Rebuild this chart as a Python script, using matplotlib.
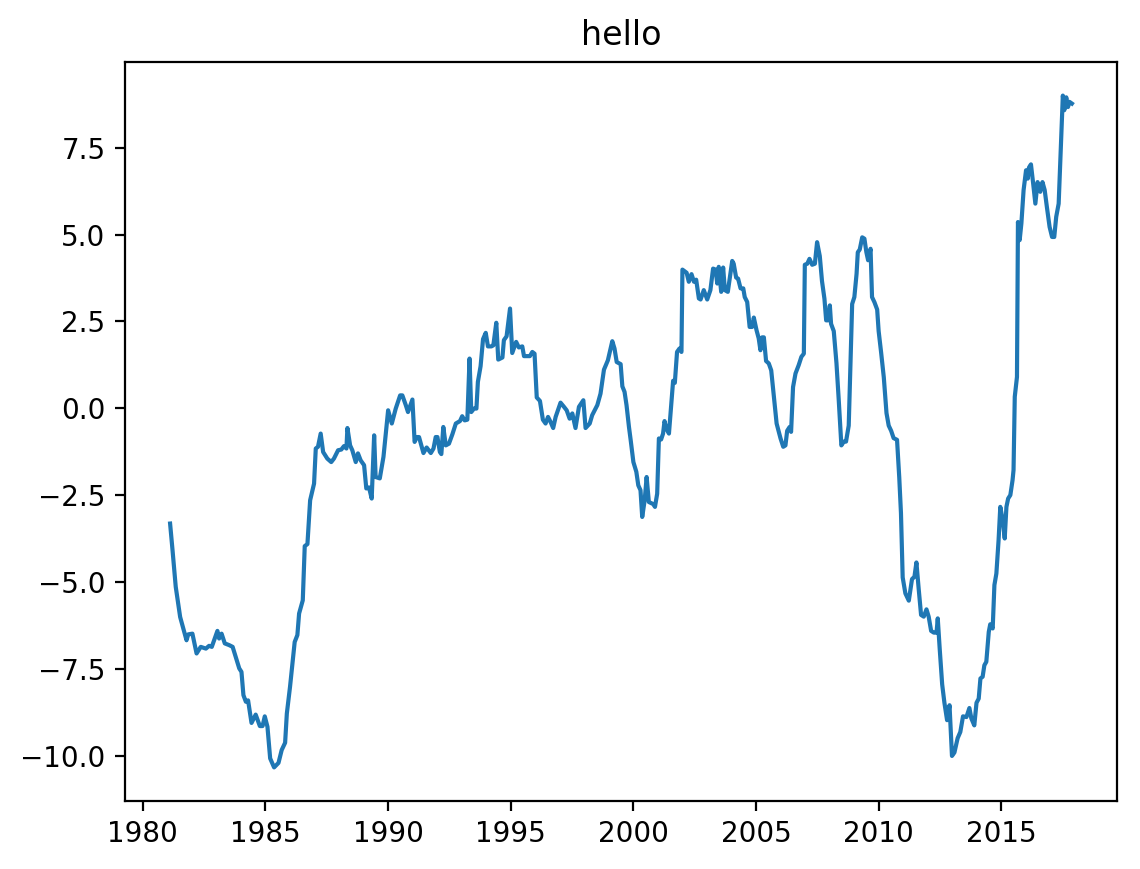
import matplotlib

matplotlib.use("Agg")

import matplotlib.pyplot as plt
import numpy as np

# decimal year, value
years = [
    1981.11, 1981.21, 1981.34, 1981.52, 1981.78, 1981.85, 1982.02, 1982.19, 1982.36, 1982.57,
    1982.70, 1982.81, 1983.04, 1983.11, 1983.21, 1983.34, 1983.52, 1983.66, 1983.93, 1984.02,
    1984.10, 1984.20, 1984.29, 1984.43, 1984.60, 1984.77, 1984.88, 1984.97, 1985.08, 1985.19,
    1985.35, 1985.53, 1985.66, 1985.80, 1985.87, 1986.00, 1986.10, 1986.19, 1986.30, 1986.37,
    1986.52, 1986.60, 1986.71, 1986.82, 1986.98, 1987.05, 1987.14, 1987.25, 1987.35, 1987.52,
    1987.68, 1987.79, 1987.96, 1988.09, 1988.20, 1988.30, 1988.34, 1988.45, 1988.54, 1988.68,
    1988.77, 1988.88, 1989.02, 1989.11, 1989.22, 1989.33, 1989.43, 1989.49, 1989.66, 1989.81,
    1990.00, 1990.15, 1990.31, 1990.49, 1990.58, 1990.72, 1990.81, 1990.99, 1991.08, 1991.17,
    1991.26, 1991.44, 1991.57, 1991.74, 1991.85, 1991.94, 1992.01, 1992.11, 1992.17, 1992.25,
    1992.35, 1992.48, 1992.62, 1992.76, 1992.93, 1993.02, 1993.12, 1993.23, 1993.32, 1993.39,
    1993.50, 1993.60, 1993.66, 1993.77, 1993.87, 1993.98, 1994.07, 1994.21, 1994.29, 1994.41,
    1994.49, 1994.66, 1994.72, 1994.83, 1994.97, 1995.06, 1995.22, 1995.33, 1995.47, 1995.54,
    1995.68, 1995.78, 1995.88, 1995.97, 1996.06, 1996.19, 1996.31, 1996.42, 1996.52, 1996.62,
    1996.73, 1996.83, 1997.03, 1997.17, 1997.28, 1997.40, 1997.51, 1997.64, 1997.78, 1997.96,
    1998.05, 1998.22, 1998.32, 1998.53, 1998.66, 1998.80, 1998.96, 1999.14, 1999.23, 1999.32,
    1999.48, 1999.55, 1999.64, 1999.72, 1999.82, 1999.89, 2000.00, 2000.12, 2000.20, 2000.29,
    2000.36, 2000.46, 2000.54, 2000.63, 2000.81, 2000.88, 2000.97, 2001.04, 2001.13, 2001.21,
    2001.27, 2001.35, 2001.45, 2001.62, 2001.69, 2001.78, 2001.88, 2001.96, 2002.00, 2002.17,
    2002.26, 2002.37, 2002.47, 2002.56, 2002.67, 2002.74, 2002.87, 2003.01, 2003.14, 2003.25,
    2003.35, 2003.42, 2003.48, 2003.58, 2003.66, 2003.73, 2003.85, 2004.03, 2004.09, 2004.19,
    2004.27, 2004.37, 2004.48, 2004.54, 2004.64, 2004.74, 2004.84, 2004.91, 2005.02, 2005.11,
    2005.18, 2005.25, 2005.32, 2005.41, 2005.52, 2005.62, 2005.73, 2005.84, 2006.00, 2006.11,
    2006.20, 2006.27, 2006.37, 2006.43, 2006.51, 2006.61, 2006.74, 2006.85, 2006.95, 2006.99,
    2007.09, 2007.18, 2007.29, 2007.40, 2007.49, 2007.60, 2007.69, 2007.79, 2007.86, 2007.94,
    2008.01, 2008.06, 2008.17, 2008.28, 2008.37, 2008.48, 2008.58, 2008.67, 2008.78, 2008.85,
    2008.92, 2009.01, 2009.10, 2009.15, 2009.23, 2009.33, 2009.42, 2009.50, 2009.57, 2009.67,
    2009.73, 2009.83, 2009.94, 2010.00, 2010.10, 2010.21, 2010.32, 2010.41, 2010.51, 2010.61,
    2010.75, 2010.84, 2010.91, 2010.98, 2011.09, 2011.23, 2011.36, 2011.46, 2011.54, 2011.63,
    2011.73, 2011.84, 2011.95, 2012.04, 2012.14, 2012.25, 2012.36, 2012.41, 2012.49, 2012.59,
    2012.68, 2012.79, 2012.89, 2012.99, 2013.09, 2013.22, 2013.33, 2013.44, 2013.58, 2013.70,
    2013.78, 2013.90, 2013.99, 2014.08, 2014.15, 2014.24, 2014.31, 2014.39, 2014.49, 2014.55,
    2014.65, 2014.72, 2014.80, 2014.89, 2014.96, 2015.06, 2015.14, 2015.21, 2015.28, 2015.37,
    2015.46, 2015.50, 2015.55, 2015.64, 2015.68, 2015.75, 2015.82, 2015.91, 2016.01, 2016.08,
    2016.13, 2016.21, 2016.30, 2016.39, 2016.48, 2016.59, 2016.68, 2016.77, 2016.86, 2016.97,
    2017.07, 2017.16, 2017.24, 2017.34, 2017.43, 2017.51, 2017.57, 2017.65, 2017.72, 2017.78,
    2017.88,
]
values = [
    -3.32, -4.09, -5.14, -6.01, -6.68, -6.51, -6.49, -7.06, -6.87, -6.92,
    -6.84, -6.87, -6.41, -6.63, -6.49, -6.77, -6.82, -6.87, -7.49, -7.59,
    -8.26, -8.45, -8.41, -9.06, -8.82, -9.15, -9.15, -8.87, -9.17, -10.08,
    -10.34, -10.21, -9.84, -9.63, -8.79, -8.02, -7.35, -6.73, -6.53, -5.91,
    -5.53, -3.97, -3.91, -2.65, -2.17, -1.16, -1.11, -0.73, -1.26, -1.45,
    -1.55, -1.45, -1.21, -1.19, -1.09, -1.16, -0.57, -1.07, -1.21, -1.55,
    -1.30, -1.50, -1.64, -2.31, -2.28, -2.60, -0.78, -1.98, -2.02, -1.40,
    -0.06, -0.44, -0.01, 0.37, 0.37, 0.09, -0.11, 0.25, -0.97, -0.83,
    -0.83, -1.29, -1.13, -1.29, -1.16, -0.83, -0.83, -1.26, -1.32, -0.54,
    -1.07, -1.02, -0.75, -0.44, -0.37, -0.23, -0.35, -0.33, 1.43, -0.11,
    -0.01, -0.01, 0.76, 1.21, 1.99, 2.17, 1.78, 1.78, 1.81, 2.46,
    1.40, 1.46, 1.96, 2.07, 2.87, 1.59, 1.91, 1.75, 1.78, 1.50,
    1.50, 1.50, 1.62, 1.57, 0.31, 0.21, -0.33, -0.44, -0.25, -0.39,
    -0.57, -0.25, 0.16, 0.04, -0.06, -0.30, -0.15, -0.57, 0.04, 0.23,
    -0.57, -0.44, -0.20, 0.09, 0.42, 1.11, 1.38, 1.93, 1.72, 1.33,
    1.27, 0.63, 0.47, 0.09, -0.54, -0.92, -1.55, -1.83, -2.22, -2.36,
    -3.13, -2.65, -1.98, -2.70, -2.76, -2.84, -2.46, -0.87, -0.90, -0.73,
    -0.37, -0.59, -0.73, 0.79, 0.73, 1.62, 1.72, 1.62, 3.99, 3.90,
    3.64, 3.86, 3.64, 3.70, 3.16, 3.13, 3.40, 3.13, 3.40, 4.02,
    3.99, 3.59, 4.07, 3.35, 4.05, 3.40, 3.35, 4.24, 4.16, 3.76,
    3.73, 3.45, 3.45, 3.20, 3.06, 2.34, 2.34, 2.61, 2.25, 2.01,
    1.67, 2.04, 2.04, 1.36, 1.29, 1.09, 0.33, -0.44, -0.87, -1.11,
    -1.07, -0.65, -0.54, -0.68, 0.61, 1.00, 1.24, 1.48, 1.57, 4.13,
    4.16, 4.30, 4.13, 4.16, 4.78, 4.38, 3.66, 3.15, 2.53, 2.53,
    2.96, 2.43, 2.22, 1.30, 0.27, -1.07, -0.96, -0.96, -0.50, 1.30,
    3.00, 3.20, 3.87, 4.49, 4.57, 4.92, 4.88, 4.49, 4.26, 4.59,
    3.20, 3.05, 2.84, 2.22, 1.61, 0.89, -0.14, -0.50, -0.65, -0.86,
    -0.91, -1.99, -3.02, -4.87, -5.33, -5.54, -4.92, -4.85, -4.44, -5.18,
    -5.95, -6.00, -5.79, -6.00, -6.41, -6.46, -6.46, -6.05, -6.93, -7.95,
    -8.47, -8.98, -8.55, -10.01, -9.91, -9.50, -9.32, -8.87, -8.89, -8.63,
    -8.93, -9.13, -8.48, -8.36, -7.78, -7.73, -7.40, -7.30, -6.44, -6.22,
    -6.34, -5.09, -4.76, -3.80, -2.84, -3.22, -3.75, -2.84, -2.60, -2.50,
    -2.07, -1.78, 0.33, 0.90, 5.36, 4.84, 5.32, 6.28, 6.85, 6.61,
    6.93, 7.02, 6.47, 5.89, 6.51, 6.23, 6.51, 6.28, 5.79, 5.22,
    4.93, 4.93, 5.51, 5.89, 7.52, 9.00, 8.58, 8.95, 8.67, 8.82,
    8.77,
]

fig = plt.figure(figsize=(5.7, 4.345), dpi=200)
ax = fig.add_axes([125 / 1140, 68 / 869, 992 / 1140, 739 / 869])
ax.plot(np.array(years), np.array(values))
ax.set_title("hello")
fig.savefig("out.png", dpi=200)
plt.close(fig)
